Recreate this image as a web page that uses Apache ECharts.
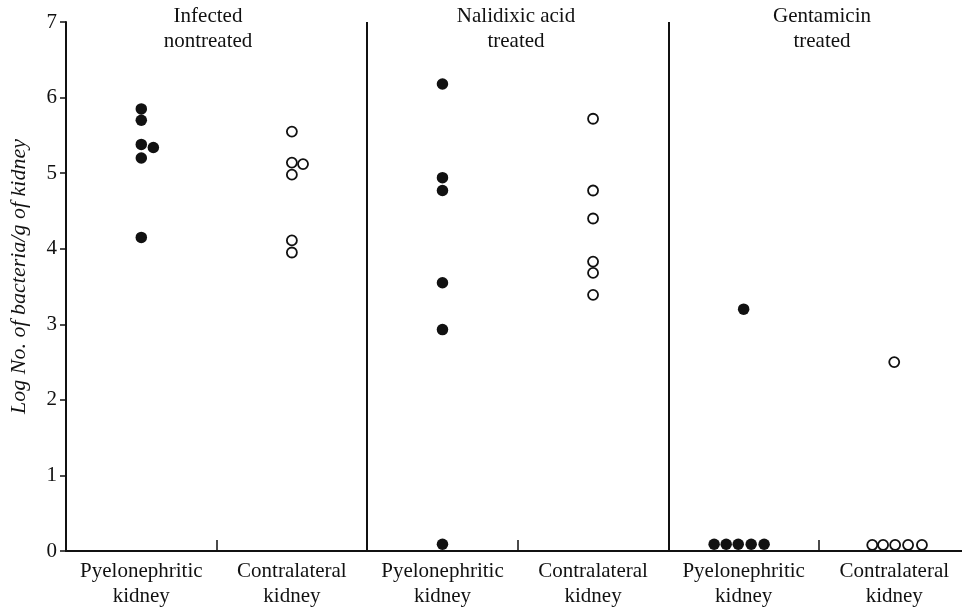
<!DOCTYPE html>
<html>
<head>
<meta charset="utf-8">
<script src="https://cdn.jsdelivr.net/npm/echarts@6/dist/echarts.min.js"></script>
<style>
  html, body { margin: 0; padding: 0; background: #fff; }
  #chart { width: 962px; height: 611px; }
</style>
</head>
<body>
<div id="chart"></div>
<script>
// panels and kidney groups
const panelTitles = ["Infected\nnontreated", "Nalidixic acid\ntreated", "Gentamicin\ntreated"];
const kidneyLabels = ["Pyelonephritic\nkidney", "Contralateral\nkidney"];
const yTicks = [0, 1, 2, 3, 4, 5, 6, 7];

// log no. of bacteria per g of kidney
const infectedPyelo = [5.85, 5.70, 5.38, 5.34, 5.20, 4.15];
const infectedContra = [5.55, 5.14, 5.12, 4.98, 4.11, 3.95];
const nalidixicPyelo = [6.18, 4.94, 4.77, 3.55, 2.93, 0.09];
const nalidixicContra = [5.72, 4.77, 4.40, 3.83, 3.68, 3.39];
const gentaPyelo = [3.20, 0.09, 0.09, 0.09, 0.09, 0.09];
const gentaContra = [2.50, 0.08, 0.08, 0.08, 0.08, 0.08];

// horizontal spread of overlapping dots inside a column (x-axis units)
const infectedPyeloDx = [0, 0, 0, 0.04, 0, 0];
const infectedContraDx = [0, 0, 0.037, 0, 0, 0];
const nalidixicPyeloDx = [0, 0, 0, 0, 0, 0];
const nalidixicContraDx = [0, 0, 0, 0, 0, 0];
const gentaPyeloDx = [0, -0.098, -0.058, -0.018, 0.025, 0.068];
const gentaContraDx = [0, -0.073, -0.037, 0.003, 0.046, 0.092];

// column centres on the shared x axis (each panel is one unit wide)
const columnCentres = [0.25, 0.75, 1.25, 1.75, 2.25, 2.75];

const font = "Liberation Serif, Times New Roman, serif";
const ink = "#111";

function points(values, dx, centre) {
  return values.map((v, i) => [centre + dx[i], v]);
}

const filledStyle = { color: ink, opacity: 1 };
const openStyle = { color: "#fff", borderColor: ink, borderWidth: 1.8, opacity: 1 };

const groups = [
  { vals: infectedPyelo, dx: infectedPyeloDx, open: false },
  { vals: infectedContra, dx: infectedContraDx, open: true },
  { vals: nalidixicPyelo, dx: nalidixicPyeloDx, open: false },
  { vals: nalidixicContra, dx: nalidixicContraDx, open: true },
  { vals: gentaPyelo, dx: gentaPyeloDx, open: false },
  { vals: gentaContra, dx: gentaContraDx, open: true },
];

const series = groups.map((g, i) => ({
  type: "scatter",
  data: points(g.vals, g.dx, columnCentres[i]),
  symbol: "circle",
  symbolSize: g.open ? 10 : 11.5,
  itemStyle: g.open ? openStyle : filledStyle,
  silent: true,
  z: 3,
}));

// panel dividers
series[0].markLine = {
  silent: true,
  symbol: "none",
  label: { show: false },
  lineStyle: { color: ink, width: 2, type: "solid", opacity: 1 },
  data: [{ xAxis: 1 }, { xAxis: 2 }],
};

const chart = echarts.init(document.getElementById("chart"), null, { renderer: "canvas" });

chart.setOption({
  backgroundColor: "#fff",
  animation: false,
  grid: { left: 65, top: 22, right: 0, bottom: 60, containLabel: false },
  xAxis: {
    type: "value",
    min: 0,
    max: 2.975,
    splitLine: { show: false },
    axisLine: { show: true, lineStyle: { color: ink, width: 2 } },
    axisTick: {
      show: true,
      inside: true,
      length: 11,
      customValues: [0.5, 1.5, 2.5],
      lineStyle: { color: ink, width: 1.5 },
    },
    axisLabel: {
      customValues: columnCentres,
      formatter: (v) => kidneyLabels[Math.floor(v * 2) % 2],
      color: ink,
      fontFamily: font,
      fontSize: 21,
      lineHeight: 25,
      margin: 8,
    },
  },
  yAxis: {
    type: "value",
    min: 0,
    max: 7,
    interval: 1,
    splitLine: { show: false },
    axisLine: { show: true, lineStyle: { color: ink, width: 2 } },
    axisTick: { show: true, length: 6, lineStyle: { color: ink, width: 1.5 } },
    axisLabel: {
      color: ink,
      fontFamily: font,
      fontSize: 21,
      margin: 9,
      formatter: (v) => (yTicks.includes(v) ? String(v) : ""),
    },
    name: "Log No. of bacteria/g of kidney",
    nameLocation: "middle",
    nameGap: 36,
    nameTextStyle: {
      color: ink,
      fontFamily: font,
      fontStyle: "italic",
      fontSize: 22,
      padding: [0, 0, 0, 20],
    },
  },
  graphic: panelTitles.map((t, i) => ({
    type: "text",
    x: [208, 516, 822][i],
    y: 4,
    silent: true,
    style: {
      text: t,
      fill: ink,
      font: "21px " + font,
      textAlign: "center",
      textVerticalAlign: "top",
      lineHeight: 25,
    },
  })),
  series: series,
});
</script>
</body>
</html>
